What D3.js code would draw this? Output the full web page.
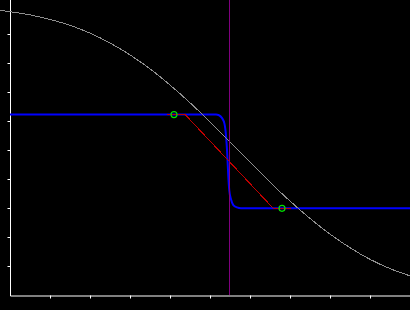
<!DOCTYPE html>
<html>
<head>
<meta charset="utf-8">
<script src="https://cdn.jsdelivr.net/npm/d3@7"></script>
<style>
  body { margin: 0; background: #000; }
  svg { display: block; }
</style>
</head>
<body>
<div id="chart"></div>
<script>
// tick positions
var xTicks = [1, 2, 3, 4, 5, 6, 7, 8, 9];
var yTicks = [0.1, 0.2, 0.3, 0.4, 0.5, 0.6, 0.7, 0.8, 0.9];

// gray reference curve
var curveX = [-0.25, 0, 0.5, 1, 1.5, 2, 2.5, 3, 3.5, 4, 4.5, 5, 5.5, 6, 6.5, 7, 7.5, 8, 8.5, 9, 9.5, 10];
var curveY = [0.982, 0.977, 0.966, 0.950, 0.930, 0.903, 0.869, 0.828, 0.780, 0.724, 0.663, 0.597, 0.528, 0.458, 0.389, 0.324, 0.264, 0.210, 0.163, 0.123, 0.091, 0.066];

// blue step
var stepX = [0, 5.15, 5.225, 5.30, 5.3625, 5.40, 5.4325, 5.4575, 5.4825, 5.525, 5.5825, 5.675, 5.775, 10];
var stepY = [0.622, 0.622, 0.620, 0.610, 0.590, 0.550, 0.483, 0.410, 0.360, 0.330, 0.310, 0.302, 0.299, 0.299];

// red ramp
var rampX = [3.92, 4.38, 6.58, 7.03];
var rampY = [0.622, 0.622, 0.299, 0.299];

// green markers
var markX = [4.1, 6.8];
var markY = [0.622, 0.299];

// vertical marker
var splitX = 5.4875;

var chartWidth = 410, chartHeight = 310;
var svg = d3.select("#chart").append("svg")
    .attr("width", chartWidth)
    .attr("height", chartHeight)
    .style("background", "#000");

var x = d3.scaleLinear().domain([0, 10]).range([10, 410]),
    y = d3.scaleLinear().domain([0, 1]).range([295, 5]);

function zip(xs, ys) { return xs.map(function(d, i) { return [d, ys[i]]; }); }

var line = d3.line()
    .x(function(d) { return x(d[0]); })
    .y(function(d) { return y(d[1]); });

// axes
var gx = svg.append("g")
    .attr("transform", "translate(0,295.5)")
    .call(d3.axisBottom(x).tickValues(xTicks).tickSize(3).tickSizeOuter(0).tickFormat(""));
var gy = svg.append("g")
    .attr("transform", "translate(10.5,0)")
    .call(d3.axisLeft(y).tickValues(yTicks).tickSize(3).tickSizeOuter(0).tickFormat(""));
gy.select(".domain").remove();
gy.append("line")
    .attr("x1", 0).attr("x2", 0)
    .attr("y1", 0).attr("y2", 296)
    .attr("stroke", "#fff");
svg.selectAll(".domain, .tick line").attr("stroke", "#fff").attr("stroke-width", 1);

// blue step
svg.append("path")
    .datum(zip(stepX, stepY))
    .attr("fill", "none")
    .attr("stroke", "#0000ff")
    .attr("stroke-width", 2)
    .attr("d", line.curve(d3.curveMonotoneX));

// red ramp
svg.append("path")
    .datum(zip(rampX, rampY))
    .attr("fill", "none")
    .attr("stroke", "#c00000")
    .attr("stroke-width", 1)
    .attr("shape-rendering", "crispEdges")
    .attr("d", line.curve(d3.curveLinear));

// gray curve
svg.append("path")
    .datum(zip(curveX, curveY))
    .attr("fill", "none")
    .attr("stroke", "#8f8f8f")
    .attr("stroke-width", 1)
    .attr("shape-rendering", "crispEdges")
    .attr("d", line.curve(d3.curveMonotoneX));

// purple split
svg.append("line")
    .attr("x1", x(splitX)).attr("x2", x(splitX))
    .attr("y1", 0).attr("y2", 295)
    .attr("stroke", "#800080")
    .attr("stroke-width", 1);

// markers
svg.selectAll(".mark")
  .data(zip(markX, markY))
  .enter().append("circle")
    .attr("class", "mark")
    .attr("cx", function(d) { return x(d[0]); })
    .attr("cy", function(d) { return y(d[1]); })
    .attr("r", 3)
    .attr("fill", "none")
    .attr("stroke", "#00e000")
    .attr("stroke-width", 1.2);
</script>
</body>
</html>
